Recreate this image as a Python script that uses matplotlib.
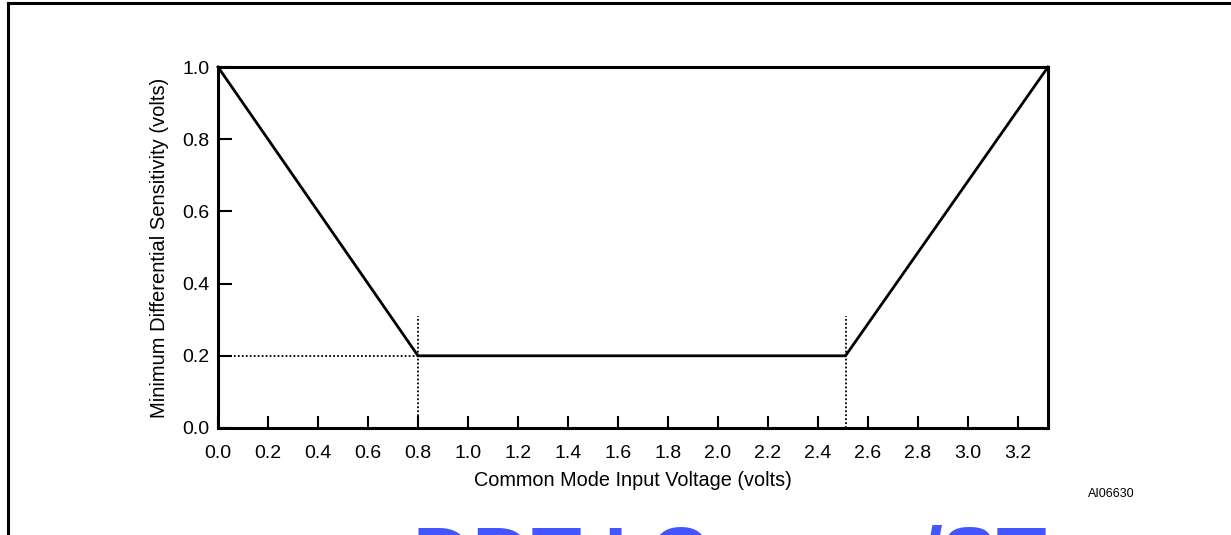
import matplotlib
matplotlib.use("Agg")
import matplotlib.pyplot as plt
from matplotlib.lines import Line2D

# curve corners (common mode voltage, minimum differential sensitivity)
vcm = [0.0, 0.8, 2.51, 3.32]
vmin = [1.0, 0.2, 0.2, 1.0]

# dotted markers
mark_x = [0.8, 2.51]
mark_top = 0.31
level = 0.2

x_ticks = [0.0, 0.2, 0.4, 0.6, 0.8, 1.0, 1.2, 1.4, 1.6, 1.8, 2.0, 2.2, 2.4, 2.6, 2.8, 3.0, 3.2]
y_ticks = [0.0, 0.2, 0.4, 0.6, 0.8, 1.0]

plt.rcParams['font.family'] = ['Liberation Sans', 'DejaVu Sans']

W, H = 1231, 535
fig = plt.figure(figsize=(W / 100, H / 100), dpi=100)
ax = fig.add_axes([218 / W, 1 - 428 / H, 830 / W, 361 / H])

ax.plot(vcm, vmin, color='black', lw=2.0, solid_joinstyle='miter', clip_on=False, zorder=3)
for xv in mark_x:
	ax.plot([xv, xv], [0, mark_top], color='black', lw=1.3, ls=(0, (1, 1.2)), zorder=2)
ax.plot([0, mark_x[0]], [level, level], color='black', lw=1.3, ls=(0, (1, 1.2)), zorder=2)

ax.set_xlim(0, 3.32)
ax.set_ylim(0, 1.0)
ax.set_xticks(x_ticks)
ax.set_xticklabels([f"{v:.1f}" for v in x_ticks])
ax.set_yticks(y_ticks)
ax.set_yticklabels([f"{v:.1f}" for v in y_ticks])
ax.tick_params(axis='x', direction='in', length=9, width=1.5, pad=12, labelsize=14)
ax.tick_params(axis='y', direction='in', length=10, width=1.5, pad=6, labelsize=14)
for s in ax.spines.values():
	s.set_linewidth(2.2)

ax.set_xlabel("Common Mode Input Voltage (volts)", fontsize=14.3, labelpad=7)
ax.set_ylabel("Minimum Differential Sensitivity (volts)", fontsize=14.5, labelpad=10)

fig.text(1088 / W, 1 - 494 / H, "AI06630", fontsize=9, va='center', ha='left')

# page frame
fig.add_artist(Line2D([8 / W, 1], [1 - 3 / H, 1 - 3 / H], color='black', lw=2.2, transform=fig.transFigure))
fig.add_artist(Line2D([8 / W, 8 / W], [0, 1 - 3 / H], color='black', lw=2.2, transform=fig.transFigure))

# clipped blue watermark at the page bottom
fig.text(413 / W, 1 - 584 / H, "DDT I C", fontsize=59, fontweight='bold', color='#4455ff',
		 ha='left', va='baseline')
fig.text(1047 / W, 1 - 584 / H, "/ST", fontsize=59, fontweight='bold', color='#4455ff',
		 ha='right', va='baseline')

fig.savefig("out.png", dpi=100)
